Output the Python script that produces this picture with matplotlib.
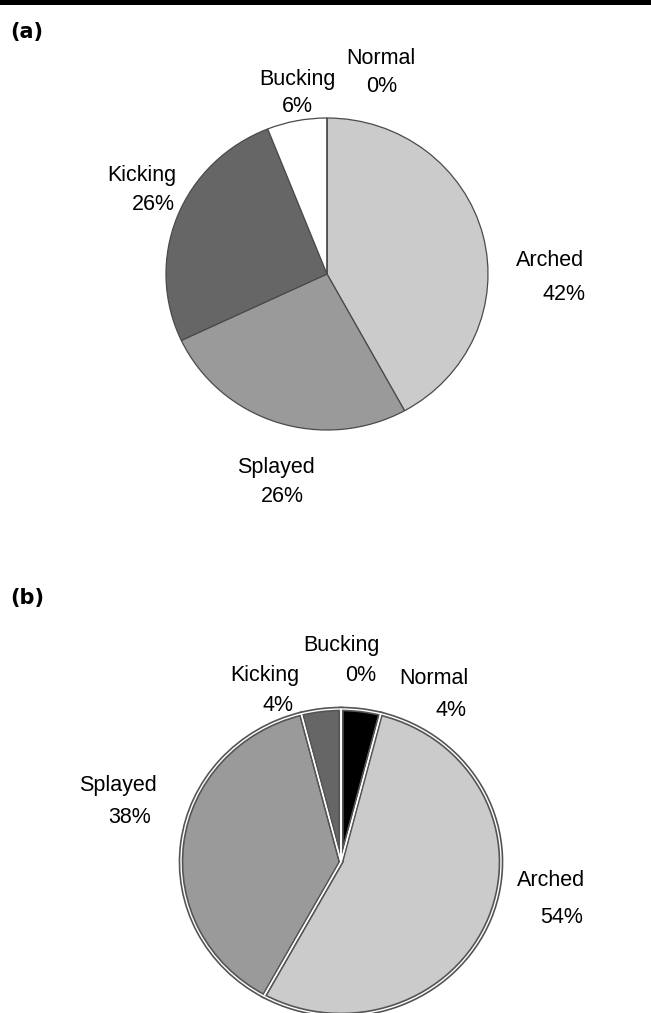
import matplotlib
matplotlib.use("Agg")
import matplotlib.pyplot as plt

plt.rcParams['font.family'] = ['Liberation Sans', 'DejaVu Sans']

# panel (a)
labels_a = ['Arched', 'Splayed', 'Kicking', 'Bucking', 'Normal']
values_a = [42, 26, 26, 6, 0]
colors_a = ['#cbcbcb', '#9a9a9a', '#666666', '#ffffff', '#000000']

# panel (b)
labels_b = ['Normal', 'Arched', 'Splayed', 'Kicking', 'Bucking']
values_b = [4, 54, 38, 4, 0]
colors_b = ['#000000', '#cbcbcb', '#9a9a9a', '#666666', '#ffffff']

W, H = 651, 1013
fig = plt.figure(figsize=(W / 100, H / 100), dpi=100)

def box(cx, cy, rx, ry):
    # axes box in figure fractions from pixel centre / radii
    return [(cx - rx) / W, 1 - (cy + ry) / H, 2 * rx / W, 2 * ry / H]

def put(x, y, s, **kw):
    fig.text(x / W, 1 - y / H, s, ha='center', va='center', fontsize=15.5, **kw)

# thick rule at the top
fig.add_artist(plt.Rectangle((0, 1 - 5 / H), 1, 5 / H, transform=fig.transFigure,
                             color='black', lw=0))

# ---- (a) ----
ax1 = fig.add_axes(box(327, 274, 161, 156))
ax1.pie(values_a, colors=colors_a, startangle=90, counterclock=False,
        wedgeprops=dict(edgecolor='#4a4a4a', linewidth=0.9))
ax1.set_aspect('auto')
ax1.set_xlim(-1, 1)
ax1.set_ylim(-1, 1)
ax1.axis('off')

pos_a = {'Arched': [(550, 260), (564, 295)],
         'Splayed': [(276, 467), (282, 496)],
         'Kicking': [(142, 175), (153, 204)],
         'Bucking': [(297, 80), (297, 107)],
         'Normal': [(381, 58), (382, 87)]}
for lab, v in zip(labels_a, values_a):
    (x1, y1), (x2, y2) = pos_a[lab]
    put(x1, y1, lab)
    put(x2, y2, f'{v}%')

fig.text(10 / W, 1 - 32 / H, '(a)', ha='left', va='center', fontsize=15,
         fontweight='bold', family='DejaVu Sans')

# ---- (b) ----
ax2 = fig.add_axes(box(341, 862, 160, 153))
ax2.pie(values_b, colors=colors_b, startangle=90, counterclock=False,
        wedgeprops=dict(edgecolor='#555555', linewidth=3.4))
ax2.pie(values_b, colors=['none'] * len(values_b), startangle=90, counterclock=False,
        wedgeprops=dict(edgecolor='white', linewidth=1.0, fill=False))
ax2.set_aspect('auto')
ax2.set_xlim(-1, 1)
ax2.set_ylim(-1, 1)
ax2.axis('off')

pos_b = {'Arched': [(551, 880), (562, 917)],
         'Splayed': [(118, 785), (130, 817)],
         'Kicking': [(265, 675), (278, 705)],
         'Bucking': [(341, 645), (361, 675)],
         'Normal': [(434, 678), (451, 711)]}
for lab, v in zip(labels_b, values_b):
    (x1, y1), (x2, y2) = pos_b[lab]
    put(x1, y1, lab)
    put(x2, y2, f'{v}%')

fig.text(10 / W, 1 - 598 / H, '(b)', ha='left', va='center', fontsize=15,
         fontweight='bold', family='DejaVu Sans')

fig.savefig('out.png', dpi=100)
